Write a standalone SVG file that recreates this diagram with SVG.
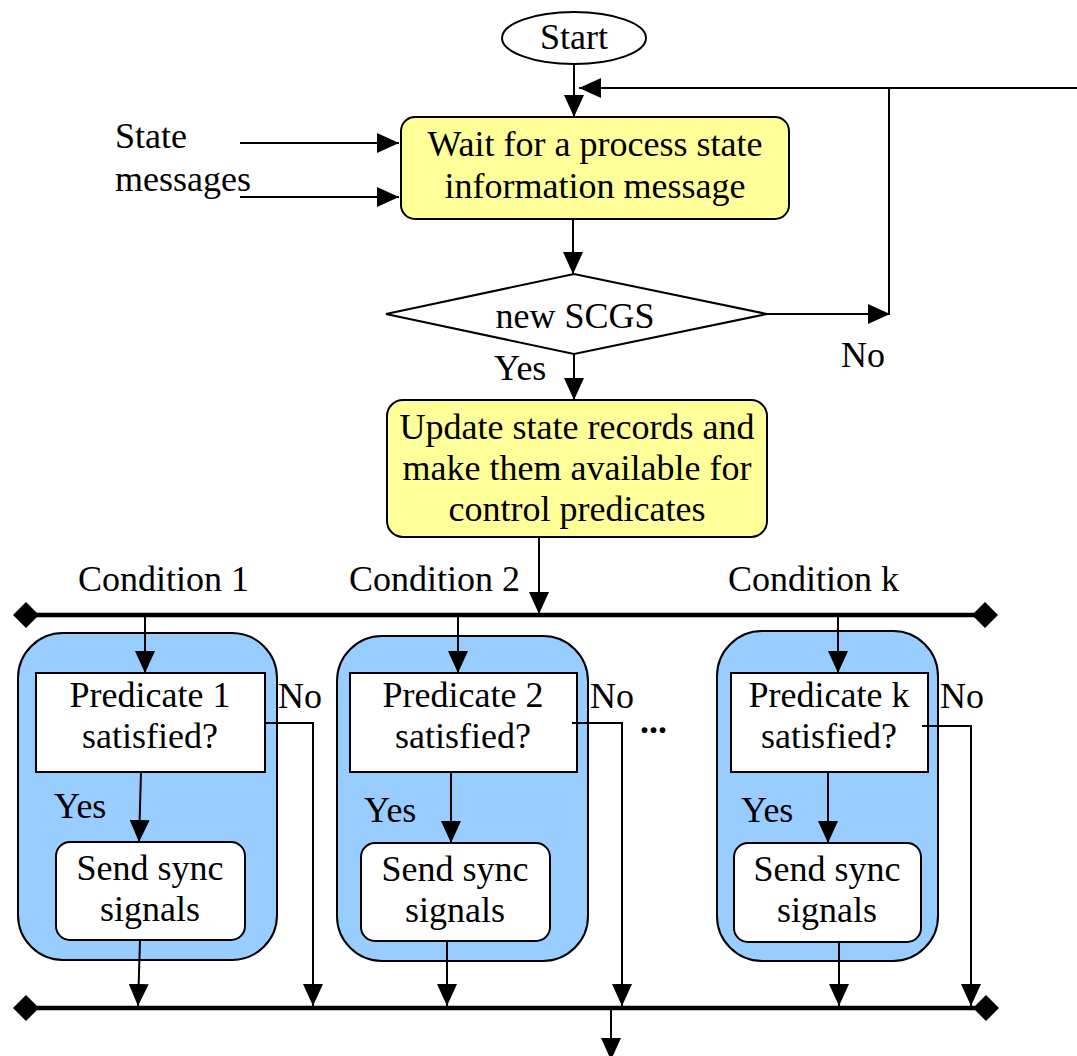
<svg xmlns="http://www.w3.org/2000/svg" width="1077" height="1056" viewBox="0 0 1077 1056">
  <style>
    .t { font-family: "Liberation Serif", "Times New Roman", serif; font-size: 36px; fill: #000; }
    .c { text-anchor: middle; }
    .yellow { fill: #FFFF99; stroke: #000; stroke-width: 2; }
    .blue { fill: #99CCFF; stroke: #000; stroke-width: 2; }
    .white { fill: #fff; stroke: #000; stroke-width: 2; }
    .ln { fill: none; stroke: #000; stroke-width: 2; }
    .arr { fill: none; stroke: #000; stroke-width: 2; marker-end: url(#ah); }
    .bus { fill: none; stroke: #000; stroke-width: 4.5; }
  </style>
  <defs>
    <marker id="ah" markerUnits="userSpaceOnUse" viewBox="0 0 22 20" markerWidth="22" markerHeight="20" refX="22" refY="10" orient="auto">
      <path d="M0,0 L22,10 L0,20 Z" fill="#000"/>
    </marker>
  </defs>

  <rect width="1077" height="1056" fill="#fff"/>

  <!-- main flow nodes -->
  <g id="start">
    <ellipse cx="574" cy="38" rx="72" ry="26" class="white"/>
    <text class="t c" x="574" y="49">Start</text>
  </g>

  <g id="wait">
    <rect x="401" y="117" width="388" height="102" rx="14" class="yellow"/>
    <text class="t c" x="595" y="156">Wait for a process state</text>
    <text class="t c" x="595" y="198">information message</text>
  </g>

  <g id="state-messages">
    <text class="t" x="115" y="148">State</text>
    <text class="t" x="115" y="191">messages</text>
  </g>

  <g id="decision">
    <polygon points="386,314 574,274 767,314 574,354" class="white"/>
    <text class="t c" x="575" y="328">new SCGS</text>
  </g>

  <g id="update">
    <rect x="387" y="400" width="380" height="137" rx="16" class="yellow"/>
    <text class="t c" x="577" y="439">Update state records and</text>
    <text class="t c" x="577" y="480">make them available for</text>
    <text class="t c" x="577" y="521">control predicates</text>
  </g>

  <g id="condition-labels">
    <text class="t" x="78" y="591">Condition 1</text>
    <text class="t" x="349" y="591">Condition 2</text>
    <text class="t" x="728" y="591">Condition k</text>
  </g>

  <!-- branch 1 -->
  <g id="branch-1">
    <rect x="18" y="633" width="259" height="327" rx="45" class="blue"/>
    <rect x="36" y="673" width="229" height="99" class="white"/>
    <text class="t c" x="150" y="707">Predicate 1</text>
    <text class="t c" x="150" y="748">satisfied?</text>
    <rect x="56" y="842" width="189" height="98" rx="14" class="white"/>
    <text class="t c" x="150" y="880">Send sync</text>
    <text class="t c" x="150" y="921">signals</text>
  </g>

  <!-- branch 2 -->
  <g id="branch-2">
    <rect x="337" y="636" width="251" height="325" rx="45" class="blue"/>
    <rect x="350" y="673" width="227" height="99" class="white"/>
    <text class="t c" x="463" y="707">Predicate 2</text>
    <text class="t c" x="463" y="748">satisfied?</text>
    <rect x="361" y="843" width="189" height="98" rx="14" class="white"/>
    <text class="t c" x="455" y="881">Send sync</text>
    <text class="t c" x="455" y="922">signals</text>
  </g>

  <!-- branch k -->
  <g id="branch-k">
    <rect x="717" y="631" width="221" height="330" rx="45" class="blue"/>
    <rect x="731" y="673" width="197" height="99" class="white"/>
    <text class="t c" x="829" y="707">Predicate k</text>
    <text class="t c" x="829" y="748">satisfied?</text>
    <rect x="734" y="843" width="187" height="99" rx="14" class="white"/>
    <text class="t c" x="827" y="881">Send sync</text>
    <text class="t c" x="827" y="922">signals</text>
  </g>

  <g id="ellipsis">
    <text class="t" x="640" y="733" font-weight="bold">...</text>
  </g>

  <!-- connectors -->
  <g id="connectors">
    <line x1="574" y1="64" x2="574" y2="117" class="arr"/>
    <line x1="1077" y1="88" x2="579" y2="88" class="arr"/>
    <line x1="889" y1="88" x2="889" y2="315" class="ln"/>
    <line x1="767" y1="314" x2="890" y2="314" class="arr"/>
    <line x1="240" y1="143" x2="399" y2="143" class="arr"/>
    <line x1="240" y1="197" x2="399" y2="197" class="arr"/>
    <line x1="573" y1="219" x2="573" y2="274" class="arr"/>
    <line x1="574" y1="354" x2="574" y2="400" class="arr"/>
    <line x1="539" y1="537" x2="539" y2="614" class="arr"/>

    <!-- fork bar -->
    <line x1="36" y1="615" x2="985" y2="615" class="bus"/>
    <polygon points="13,615 26,602 39,615 26,628" fill="#000"/>
    <polygon points="972,615 985,602 998,615 985,628" fill="#000"/>

    <line x1="145" y1="617" x2="145" y2="673" class="arr"/>
    <line x1="458" y1="617" x2="458" y2="673" class="arr"/>
    <line x1="838" y1="617" x2="838" y2="673" class="arr"/>

    <!-- yes paths -->
    <line x1="141" y1="772" x2="139" y2="842" class="arr"/>
    <line x1="451" y1="772" x2="451" y2="843" class="arr"/>
    <line x1="828" y1="772" x2="828" y2="843" class="arr"/>

    <!-- no paths -->
    <polyline points="265,723 313,723 313,1006" class="arr"/>
    <polyline points="572,723 622,723 622,1006" class="arr"/>
    <polyline points="922,726 971,726 971,1006" class="arr"/>

    <!-- outputs to join bar -->
    <line x1="140" y1="940" x2="138" y2="1006" class="arr"/>
    <line x1="447" y1="941" x2="447" y2="1006" class="arr"/>
    <line x1="839" y1="942" x2="839" y2="1006" class="arr"/>

    <!-- join bar -->
    <line x1="26" y1="1008" x2="986" y2="1008" class="bus"/>
    <polygon points="13,1008 26,995 39,1008 26,1021" fill="#000"/>
    <polygon points="973,1008 986,995 999,1008 986,1021" fill="#000"/>
    <line x1="611" y1="1008" x2="611" y2="1060" class="arr"/>

    <!-- branch labels -->
    <text class="t" x="494" y="380">Yes</text>
    <text class="t" x="841" y="367">No</text>
    <text class="t" x="54" y="818">Yes</text>
    <text class="t" x="364" y="822">Yes</text>
    <text class="t" x="741" y="822">Yes</text>
    <text class="t" x="278" y="708">No</text>
    <text class="t" x="590" y="708">No</text>
    <text class="t" x="940" y="708">No</text>
  </g>
</svg>
